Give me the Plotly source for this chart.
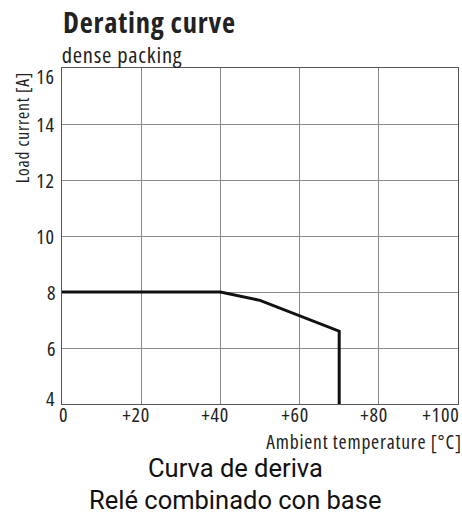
import plotly.graph_objects as go

# data
temperature = [0, 40, 50, 70, 70]
load_current = [8, 8, 7.7, 6.6, 4]
x_ticks = [0, 20, 40, 60, 80, 100]
x_tick_labels = ["0", "+20", "+40", "+60", "+80", "+100"]
y_ticks = [4, 6, 8, 10, 12, 14, 16]
y_tick_labels = ["4", "6", "8", "10", "12", "14", "16"]

COND = "Open Sans"
INK = "#222222"

def cf(size, weight="normal", color=INK):
    return dict(size=size, family=COND, color=color, weight=weight)

fig = go.Figure()
fig.add_trace(go.Scatter(x=temperature, y=load_current, mode="lines",
                         line=dict(color="#111111", width=3), showlegend=False,
                         hoverinfo="skip"))

W, H = 462, 514
ml, mr, mt, mb = 62, 4, 68, 110
pw = W - ml - mr
ph = H - mt - mb

def py(pix):
    return 1 + (mt - pix) / ph

def px(pix):
    return (pix - ml) / pw

fig.update_layout(
    width=W, height=H,
    margin=dict(l=ml, r=mr, t=mt, b=mb),
    paper_bgcolor="white", plot_bgcolor="white",
    font=cf(14),
)
axis_style = dict(showgrid=True, gridcolor="#8a8a8a", gridwidth=1,
                  showline=True, linecolor="#555555", linewidth=1, mirror=True,
                  ticks="", showticklabels=False, zeroline=False, fixedrange=True)
fig.update_xaxes(range=[0, 100], tickmode="array", tickvals=x_ticks, **axis_style)
fig.update_yaxes(range=[4, 16], tickmode="array", tickvals=y_ticks, **axis_style)

ann = []
# x tick labels (digits centred on grid lines; last one kept inside the figure)
for i, (v, t) in enumerate(zip(x_ticks, x_tick_labels)):
    shift = -5 if t.startswith("+") else 1
    if i == len(x_ticks) - 1:
        shift = -17
    ann.append(dict(text=t, x=v, xref="x", y=py(414.5), yref="paper",
                    xanchor="center", yanchor="middle", xshift=shift, showarrow=False,
                    font=cf(20)))
# y tick labels (end ones kept inside the axis range)
for i, (v, t) in enumerate(zip(y_ticks, y_tick_labels)):
    shift = 0
    if i == 0:
        shift = 6
    elif i == len(y_ticks) - 1:
        shift = -8
    ann.append(dict(text=t, x=0, xref="paper", y=v, yref="y",
                    xanchor="right", yanchor="middle", xshift=-3, yshift=shift,
                    showarrow=False, font=cf(20)))

ann.append(dict(text="<b>Derating curve</b>", x=px(149), y=py(22), xref="paper", yref="paper",
                xanchor="center", yanchor="middle", showarrow=False,
                font=cf(28.5, "bold")))
ann.append(dict(text="dense packing", x=px(122), y=py(55), xref="paper", yref="paper",
                xanchor="center", yanchor="middle", showarrow=False,
                font=cf(22.5)))
ann.append(dict(text="Load current [A]", x=px(21), y=py(127.5), xref="paper", yref="paper",
                xanchor="center", yanchor="middle", textangle=-90, showarrow=False,
                font=cf(17.5)))
ann.append(dict(text="Ambient temperature [°C]", x=px(364), y=py(441.5), xref="paper", yref="paper",
                xanchor="center", yanchor="middle", showarrow=False,
                font=cf(19.5)))
ann.append(dict(text="Curva de deriva", x=px(235), y=py(468), xref="paper", yref="paper",
                xanchor="center", yanchor="middle", showarrow=False,
                font=dict(size=25.5, family="Roboto", color="#111111")))
ann.append(dict(text="Relé combinado con base", x=px(235), y=py(500), xref="paper", yref="paper",
                xanchor="center", yanchor="middle", showarrow=False,
                font=dict(size=25.5, family="Roboto", color="#111111")))
fig.update_layout(annotations=ann)

js = """
var s=document.createElement('style');
s.textContent='body{margin:0;overflow:hidden;} svg text{font-stretch:75%;letter-spacing:0.8px;} svg text[style*="Roboto"]{font-stretch:100% !important;letter-spacing:0 !important;}';
document.head.appendChild(s);
var gd=document.getElementById('{plot_id}');
Plotly.newPlot(gd, gd.data, gd.layout, {displayModeBar:false, staticPlot:true});
"""
fig.write_html("out.html", config={"displayModeBar": False}, post_script=js)
